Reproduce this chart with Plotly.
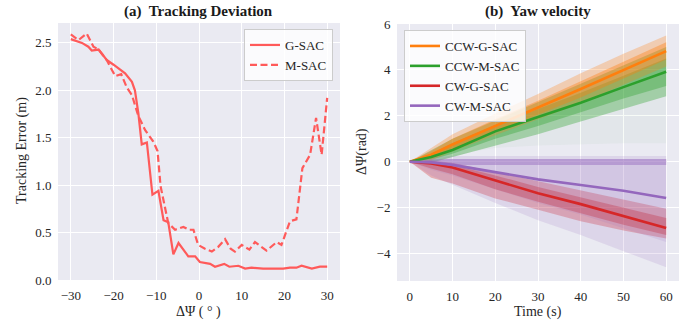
import plotly.graph_objects as go

# ---------------- (a) Tracking Deviation ----------------
g_x = [-30, -28.2, -27.4, -25.9, -25.1, -23.5, -21.6, -20.0, -17.3, -15.7, -15.0, -14.2, -13.4, -12.2,
       -10.9, -9.5, -8.3, -7.2, -6.0, -4.8, -2.5, -0.9, 0.2, 2.6, 3.75, 5.9, 7.1, 9.2, 10.8, 12.3,
       15.0, 18.2, 19.7, 21.3, 22.8, 24.0, 26.4, 28.3, 30]
g_y = [2.54, 2.51, 2.50, 2.46, 2.42, 2.43, 2.32, 2.27, 2.18, 2.09, 2.00, 1.76, 1.43, 1.45,
       0.90, 0.94, 0.63, 0.61, 0.27, 0.39, 0.25, 0.25, 0.19, 0.17, 0.14, 0.17, 0.14, 0.15, 0.12, 0.13,
       0.12, 0.12, 0.12, 0.13, 0.13, 0.15, 0.12, 0.14, 0.14]

m_x = [-30, -28.2, -26.3, -24.7, -23.5, -21.6, -20.8, -19.6, -18.2, -16.9, -15.7, -14.2, -12.6, -10.7,
       -9.7, -9.0, -7.2, -5.6, -3.65, -2.3, -1.3, -0.2, 1.4, 3.0, 4.5, 6.1, 7.4, 8.4, 10.0, 11.8,
       13.1, 15.8, 18.2, 19.3, 21.3, 22.8, 24.2, 26.0, 27.4, 28.7, 30]
m_y = [2.59, 2.53, 2.60, 2.46, 2.43, 2.32, 2.25, 2.15, 2.17, 2.03, 1.95, 1.73, 1.58, 1.46,
       1.36, 0.99, 0.60, 0.53, 0.56, 0.53, 0.53, 0.37, 0.33, 0.30, 0.35, 0.43, 0.33, 0.30, 0.37, 0.32,
       0.40, 0.31, 0.40, 0.37, 0.62, 0.64, 1.18, 1.32, 1.71, 1.32, 1.92]

# ---------------- (b) Yaw velocity ----------------
t = [0, 5, 10, 20, 30, 40, 50, 60]

ccw_g_mean = [0, 0.30, 0.75, 1.54, 2.36, 3.17, 3.99, 4.82]
ccw_g_hi_out = [0, 0.60, 1.20, 2.10, 2.95, 3.85, 4.70, 5.50]
ccw_g_lo_out = [0, 0.05, 0.45, 1.15, 1.85, 2.55, 3.35, 4.15]
ccw_g_hi_in = [0, 0.45, 1.00, 1.85, 2.65, 3.50, 4.35, 5.20]
ccw_g_lo_in = [0, 0.15, 0.55, 1.30, 2.05, 2.80, 3.62, 4.45]

ccw_m_mean = [0, 0.20, 0.51, 1.32, 1.95, 2.57, 3.25, 3.92]
ccw_m_hi_out = [0, 0.50, 1.00, 1.80, 2.60, 3.40, 4.20, 5.00]
ccw_m_lo_out = [0, -0.05, 0.20, 0.70, 1.20, 1.75, 2.30, 2.85]
ccw_m_hi_in = [0, 0.35, 0.80, 1.60, 2.30, 3.00, 3.75, 4.50]
ccw_m_lo_in = [0, 0.10, 0.35, 1.00, 1.55, 2.15, 2.75, 3.30]
ccw_m_lo_far = [0, 0.0, 0.30, 0.60, 0.70, 0.75, 0.80, 0.80]

cw_g_mean = [0, -0.08, -0.25, -0.82, -1.38, -1.85, -2.38, -2.89]
cw_g_hi_out = [0, 0.05, -0.05, -0.45, -0.85, -1.25, -1.65, -2.05]
cw_g_lo_out = [0, -0.70, -0.95, -1.60, -2.10, -2.60, -3.00, -3.35]
cw_g_hi_in = [0, -0.02, -0.15, -0.60, -1.10, -1.55, -2.00, -2.45]
cw_g_lo_in = [0, -0.30, -0.55, -1.20, -1.75, -2.25, -2.75, -3.20]

cw_m_mean = [0, -0.03, -0.14, -0.44, -0.77, -1.02, -1.27, -1.58]
cw_m_hi_out = [0, 0.20, 0.25, 0.25, 0.25, 0.25, 0.25, 0.25]
cw_m_lo_out = [0, -0.60, -1.00, -1.80, -2.55, -3.20, -3.90, -4.60]
cw_m_lo_mid = [0, -0.35, -0.60, -1.20, -1.80, -2.30, -2.90, -3.50]
cw_m_zero_hi = [0, 0.10, 0.12, 0.12, 0.12, 0.12, 0.12, 0.12]
cw_m_zero_lo = [0, -0.10, -0.15, -0.15, -0.15, -0.15, -0.15, -0.15]

ORANGE = "#ff7f0e"
GREEN = "#2ca02c"
RED = "#d62728"
PURPLE = "#9467bd"
SALMON = "#ff5a5a"

SERIF = "Liberation Serif, Times New Roman, serif"
W, H = 694, 320


def rgba(hex_color, a):
    h = hex_color.lstrip("#")
    r, g, b = int(h[0:2], 16), int(h[2:4], 16), int(h[4:6], 16)
    return f"rgba({r},{g},{b},{a})"


fig = go.Figure()

# Left panel
fig.add_trace(go.Scatter(x=g_x, y=g_y, mode="lines", name="G-SAC",
                         line=dict(color=SALMON, width=2.2), xaxis="x", yaxis="y",
                         legend="legend"))
fig.add_trace(go.Scatter(x=m_x, y=m_y, mode="lines", name="M-SAC",
                         line=dict(color=SALMON, width=2.2, dash="7px,3.5px"), xaxis="x", yaxis="y",
                         legend="legend"))


def band(lo, hi, color, alpha):
    fig.add_trace(go.Scatter(x=t, y=lo, mode="lines", line=dict(width=0, color=rgba(color, 0)),
                             showlegend=False, hoverinfo="skip", xaxis="x2", yaxis="y2"))
    fig.add_trace(go.Scatter(x=t, y=hi, mode="lines", line=dict(width=0, color=rgba(color, 0)),
                             fill="tonexty", fillcolor=rgba(color, alpha),
                             showlegend=False, hoverinfo="skip", xaxis="x2", yaxis="y2"))


# spread bands of the individual runs
band(ccw_m_lo_far, ccw_m_lo_out, GREEN, 0.04)
band(ccw_m_lo_out, ccw_m_hi_out, GREEN, 0.38)
band(ccw_m_lo_in, ccw_m_hi_in, GREEN, 0.35)
band(ccw_g_lo_out, ccw_g_hi_out, ORANGE, 0.28)
band(ccw_g_lo_in, ccw_g_hi_in, ORANGE, 0.38)
band(cw_g_lo_out, cw_g_hi_out, RED, 0.30)
band(cw_g_lo_in, cw_g_hi_in, RED, 0.38)
band(cw_m_lo_out, cw_m_hi_out, PURPLE, 0.16)
band(cw_m_lo_mid, cw_m_zero_hi, PURPLE, 0.14)
band(cw_m_zero_lo, cw_m_zero_hi, PURPLE, 0.45)

for name, ys, col in [("CCW-G-SAC", ccw_g_mean, ORANGE), ("CCW-M-SAC", ccw_m_mean, GREEN),
                      ("CW-G-SAC", cw_g_mean, RED), ("CW-M-SAC", cw_m_mean, PURPLE)]:
    fig.add_trace(go.Scatter(x=t, y=ys, mode="lines", name=name, line=dict(color=col, width=2.6),
                             xaxis="x2", yaxis="y2", legend="legend2"))

axis_common = dict(showgrid=True, gridcolor="white", gridwidth=1, zeroline=False, showline=False,
                   ticks="outside", ticklen=3, tickcolor="rgba(0,0,0,0)",
                   tickfont=dict(family=SERIF, size=13, color="#262626"), automargin=False)

legend_common = dict(bgcolor="rgba(255,255,255,0.8)", bordercolor="#cccccc", borderwidth=1,
                     font=dict(family=SERIF, size=13, color="#262626"), itemwidth=30,
                     tracegroupgap=0, traceorder="normal")

title_font = dict(family=SERIF, size=14, color="#262626")

fig.update_layout(
    width=W, height=H,
    margin=dict(l=0, r=0, t=0, b=0),
    paper_bgcolor="white",
    plot_bgcolor="#eaeaf2",
    font=dict(family=SERIF, color="#262626"),
    xaxis=dict(domain=[58 / W, 340 / W], range=[-33, 33], tickvals=[-30, -20, -10, 0, 10, 20, 30],
               ticktext=["\u221230", "\u221220", "\u221210", "0", "10", "20", "30"],
               anchor="y", **axis_common),
    yaxis=dict(domain=[40 / H, 297 / H], range=[0, 2.71], tickvals=[0, 0.5, 1.0, 1.5, 2.0, 2.5],
               ticktext=["0.0", "0.5", "1.0", "1.5", "2.0", "2.5"],
               anchor="x", **axis_common),
    xaxis2=dict(domain=[397 / W, 679 / W], range=[-3, 63], tickvals=[0, 10, 20, 30, 40, 50, 60],
                anchor="y2", **axis_common),
    yaxis2=dict(domain=[39 / H, 296 / H], range=[-5.2, 6.0], tickvals=[-4, -2, 0, 2, 4, 6],
                ticktext=["\u22124", "\u22122", "0", "2", "4", "6"],
                anchor="x2", **axis_common),
    legend=dict(x=333 / W, y=1 - 29 / H, xanchor="right", yanchor="top", **legend_common),
    legend2=dict(x=404 / W, y=1 - 30 / H, xanchor="left", yanchor="top", **legend_common),
    annotations=[
        dict(text="<b>(a)  Tracking Deviation</b>", x=199 / W, y=1 - 12 / H, xref="paper", yref="paper",
             showarrow=False, font=dict(family=SERIF, size=15, color="#1a1a1a"), xanchor="center",
             yanchor="middle"),
        dict(text="<b>(b)  Yaw velocity</b>", x=538 / W, y=1 - 12 / H, xref="paper", yref="paper",
             showarrow=False, font=dict(family=SERIF, size=15, color="#1a1a1a"), xanchor="center",
             yanchor="middle"),
        dict(text="\u0394\u03a8 ( \u00b0 )", x=199 / W, y=1 - 312 / H, xref="paper", yref="paper",
             showarrow=False, font=title_font, xanchor="center", yanchor="middle"),
        dict(text="Time (s)", x=538 / W, y=1 - 312 / H, xref="paper", yref="paper",
             showarrow=False, font=title_font, xanchor="center", yanchor="middle"),
        dict(text="Tracking Error (m)", x=22 / W, y=1 - 151 / H, xref="paper", yref="paper",
             showarrow=False, font=title_font, xanchor="center", yanchor="middle", textangle=-90),
        dict(text="\u0394\u03a8(rad)", x=362 / W, y=1 - 152 / H, xref="paper", yref="paper",
             showarrow=False, font=title_font, xanchor="center", yanchor="middle", textangle=-90),
    ],
    showlegend=True,
)

fig.write_html("out.html", config={"displayModeBar": False},
               post_script="document.body.style.margin='0px';")
